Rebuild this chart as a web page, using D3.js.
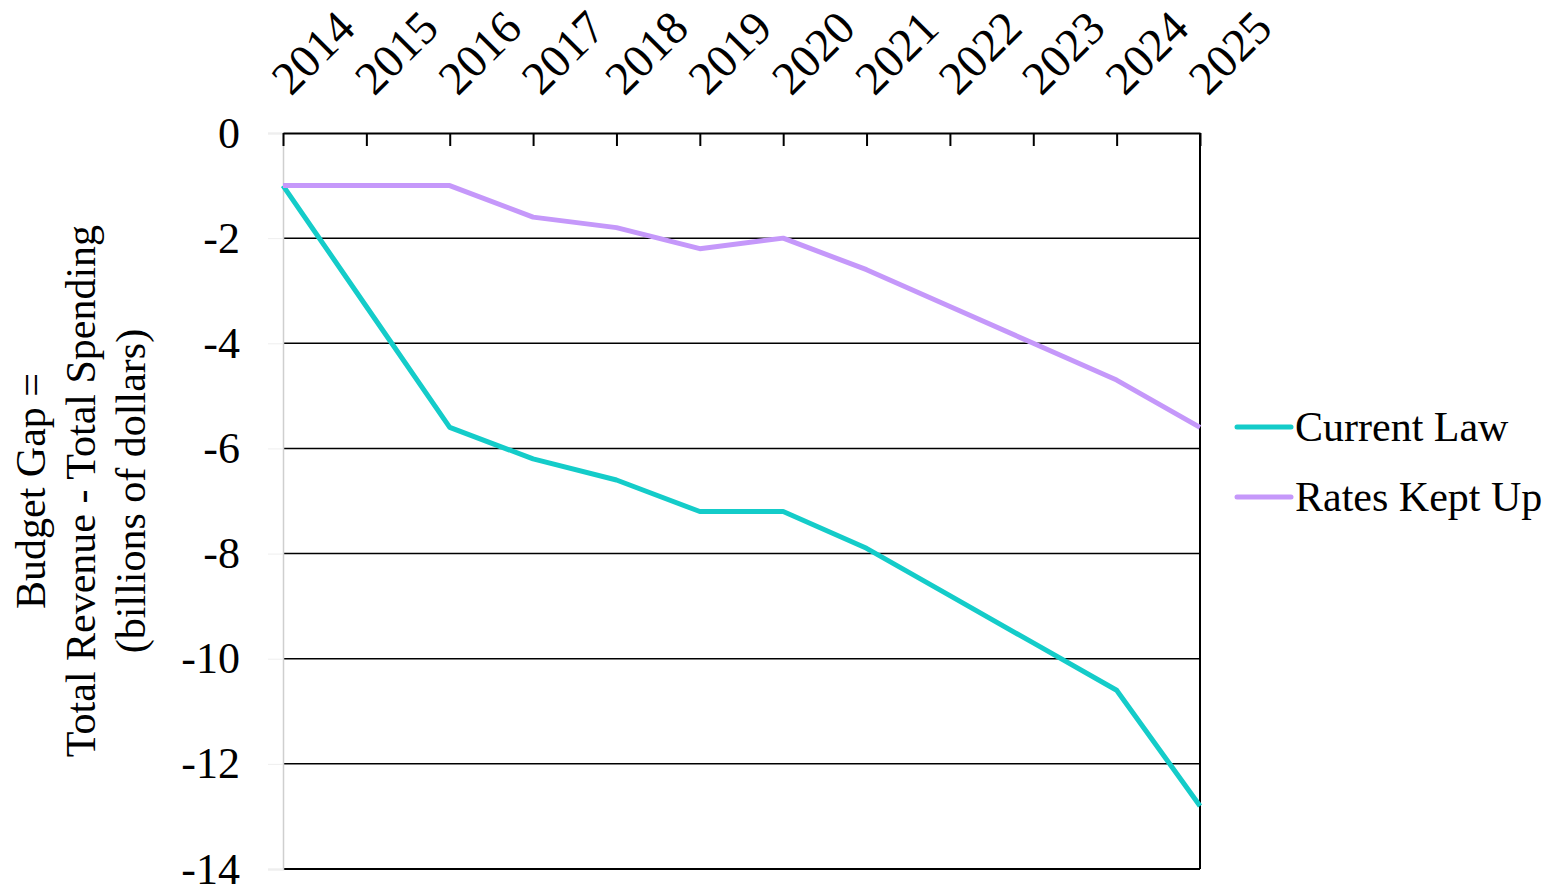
<!DOCTYPE html>
<html><head><meta charset="utf-8">
<script src="https://cdn.jsdelivr.net/npm/d3@7/dist/d3.min.js"></script>
<style>body{margin:0;background:#fff}svg{display:block}text{font-family:"Liberation Serif","Times New Roman",serif;fill:#000}</style>
</head><body><svg id="c" width="1562" height="886"></svg>
<script>
const years = ["2014","2015","2016","2017","2018","2019","2020","2021","2022","2023","2024","2025"];
const currentLaw = [-1, -3.3, -5.6, -6.2, -6.6, -7.2, -7.2, -7.9, -8.8, -9.7, -10.6, -12.8];
const ratesKeptUp = [-1, -1, -1, -1.6, -1.8, -2.2, -2.0, -2.6, -3.3, -4.0, -4.7, -5.6];
const yTicks = [0, -2, -4, -6, -8, -10, -12, -14];
const seriesNames = ["Current Law", "Rates Kept Up"];
const colors = ["#14ccc9", "#c598fa"];

const svg = d3.select("#c");
const L = 283, R = 1200, T = 133, B = 869;
const x = d3.scalePoint().domain(years).range([L, R]);
const y = d3.scaleLinear().domain([-14, 0]).range([B, T]);

// gridlines
svg.append("g").selectAll("line").data(yTicks.filter(d => d !== 0)).join("line")
  .attr("x1", L).attr("x2", R).attr("y1", d => y(d)).attr("y2", d => y(d))
  .attr("stroke", "#000").attr("stroke-width", d => d === -14 ? 2 : 1.5);

// y axis (light)
const ya = svg.append("g").attr("transform", `translate(${L},0)`)
  .call(d3.axisLeft(y).tickValues(yTicks).tickSize(15).tickPadding(28).tickFormat(d => d === 0 ? "0" : d3.format("")(d).replace("−", "-")));
ya.select(".domain").attr("stroke", "#cfcfcf").attr("stroke-width", 1.5);
ya.selectAll(".tick line").attr("stroke", "#eeeeee");
ya.selectAll(".tick text").attr("font-size", 44).attr("font-family", "Liberation Serif").attr("fill", "#000");

// top axis with inward ticks
const xa = svg.append("g").attr("transform", `translate(0,${T})`)
  .call(d3.axisTop(x).tickSize(-13).tickSizeOuter(0).tickFormat(""));
xa.select(".domain").attr("stroke", "#000").attr("stroke-width", 2);
xa.selectAll(".tick line").attr("stroke", "#000").attr("stroke-width", 2);
svg.append("g").selectAll("text").data(years).join("text")
  .attr("transform", d => `translate(${x(d) + 8},${97}) rotate(-45)`)
  .attr("font-size", 47).text(d => d);

// right border
svg.append("line").attr("x1", R).attr("x2", R).attr("y1", T).attr("y2", B)
  .attr("stroke", "#000").attr("stroke-width", 2);

// lines
const line = d3.line().x((d, i) => x(years[i])).y(d => y(d));
[currentLaw, ratesKeptUp].forEach((s, i) => {
  svg.append("path").datum(s).attr("d", line).attr("fill", "none")
    .attr("stroke", colors[i]).attr("stroke-width", 5).attr("stroke-linejoin", "round");
});

// legend
seriesNames.forEach((n, i) => {
  const ly = 427 + i * 70;
  svg.append("line").attr("x1", 1237).attr("x2", 1291).attr("y1", ly).attr("y2", ly)
    .attr("stroke", colors[i]).attr("stroke-width", 5).attr("stroke-linecap", "round");
  svg.append("text").attr("x", 1295).attr("y", ly + 14).attr("font-size", 42).text(n);
});

// y title
const tl = ["Budget Gap =", "Total Revenue - Total Spending", "(billions of dollars)"];
const tg = svg.append("text").attr("transform", "translate(30,491) rotate(-90)")
  .attr("text-anchor", "middle").attr("font-size", 42);
tl.forEach((t, i) => tg.append("tspan").attr("x", 0).attr("dy", i === 0 ? "0.35em" : 50).text(t));
</script></body></html>
